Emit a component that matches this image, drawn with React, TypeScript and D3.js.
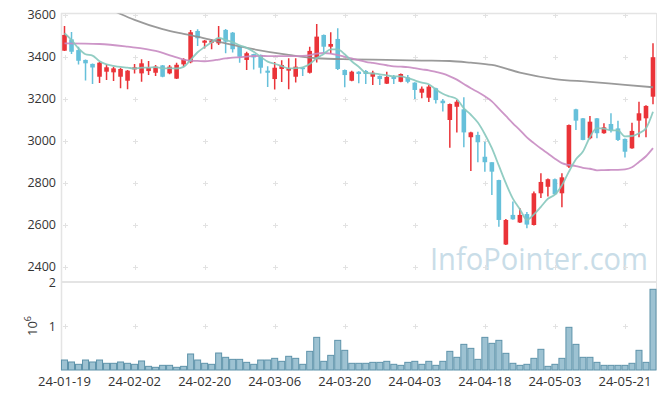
import React, { useRef, useEffect } from "react";
import * as d3 from "d3";

// daily candles, 2024-01-19 .. 2024-05-27 (85 sessions)
const opens = [
  3430, 3484, 3433, 3386, 3367, 3306, 3330, 3327, 3306, 3287,
  3341, 3322, 3333, 3325, 3360, 3322, 3297, 3365, 3375, 3524,
  3468, 3468, 3465, 3529, 3516, 3449, 3386, 3414, 3410, 3335,
  3295, 3343, 3335, 3306, 3349, 3325, 3398, 3505, 3449, 3486,
  3338, 3287, 3330, 3333, 3306, 3310, 3273, 3306, 3282, 3303,
  3278, 3230, 3206, 3251, 3192, 3100, 3163, 3151, 3018, 3029,
  2925, 2899, 2814, 2507, 2648, 2612, 2652, 2600, 2751, 2782,
  2818, 2751, 2878, 3151, 3108, 3013, 3108, 3037, 3081, 3060,
  3010, 2965, 3097, 3108, 3211,
];
const closes = [
  3505, 3425, 3382, 3370, 3350, 3373, 3351, 3346, 3343, 3335,
  3351, 3370, 3349, 3354, 3306, 3354, 3363, 3389, 3518, 3489,
  3478, 3478, 3489, 3473, 3437, 3401, 3418, 3398, 3349, 3325,
  3349, 3362, 3346, 3354, 3344, 3429, 3497, 3449, 3462, 3343,
  3314, 3330, 3319, 3319, 3325, 3295, 3305, 3295, 3319, 3282,
  3243, 3249, 3259, 3195, 3180, 3176, 3187, 3041, 3041, 2994,
  2899, 2854, 2624, 2624, 2627, 2648, 2602, 2751, 2805, 2818,
  2746, 2827, 3076, 3097, 3005, 3092, 3037, 3065, 3052, 3005,
  2949, 3048, 3132, 3167, 3399,
];
const highs = [
  3548, 3519, 3449, 3388, 3369, 3376, 3365, 3354, 3349, 3338,
  3367, 3389, 3381, 3362, 3362, 3362, 3373, 3394, 3529, 3532,
  3481, 3484, 3548, 3533, 3519, 3452, 3425, 3416, 3412, 3356,
  3376, 3384, 3394, 3394, 3352, 3449, 3557, 3507, 3518, 3537,
  3340, 3335, 3332, 3338, 3335, 3312, 3330, 3314, 3322, 3314,
  3280, 3259, 3267, 3253, 3200, 3178, 3195, 3208, 3044, 3044,
  2997, 2899, 2816, 2629, 2712, 2680, 2662, 2759, 2846, 2821,
  2822, 2846, 3078, 3154, 3110, 3119, 3110, 3084, 3132, 3097,
  3012, 3087, 3187, 3170, 3465,
];
const lows = [
  3428, 3414, 3364, 3288, 3271, 3276, 3290, 3286, 3251, 3246,
  3322, 3282, 3314, 3310, 3303, 3318, 3295, 3354, 3370, 3452,
  3441, 3437, 3457, 3418, 3421, 3373, 3338, 3341, 3322, 3257,
  3245, 3281, 3246, 3278, 3310, 3322, 3374, 3422, 3414, 3338,
  3256, 3285, 3275, 3271, 3267, 3267, 3271, 3271, 3280, 3275,
  3200, 3203, 3186, 3179, 3140, 2968, 3040, 2970, 2857, 2899,
  2854, 2743, 2592, 2505, 2625, 2610, 2584, 2598, 2729, 2736,
  2744, 2684, 2872, 3052, 3003, 3008, 3013, 3035, 3040, 3000,
  2922, 2963, 3018, 3018, 3175,
];
// volume in thousands
const volumes = [
  227, 182, 129, 227, 182, 227, 152, 152, 182, 152,
  129, 205, 83, 61, 106, 106, 61, 83, 364, 227,
  152, 129, 386, 288, 242, 242, 174, 129, 227, 227,
  265, 197, 311, 265, 129, 424, 742, 197, 333, 674,
  447, 152, 152, 152, 174, 174, 197, 129, 106, 174,
  197, 129, 197, 106, 197, 424, 288, 583, 492, 242,
  742, 606, 674, 379, 152, 106, 129, 265, 470, 83,
  129, 265, 970, 583, 288, 288, 174, 106, 106, 106,
  106, 152, 447, 174, 1834,
];

// moving-average values before the window fills
const ma5Head = [3513, 3481, 3441, 3413];
const ma20HeadIdx = [0, 5, 9, 13, 16, 18];
const ma20HeadVal = [3465, 3462, 3449, 3429, 3398, 3382];
// 60-day line
const ma60Idx = [0, 4, 8, 10, 14, 17, 20, 23, 27, 32, 36, 41, 46, 51, 55, 58, 61, 65, 70, 75, 80, 84];
const ma60Val = [3720, 3668, 3605, 3577, 3533, 3510, 3489, 3465, 3437, 3410, 3394, 3389, 3386, 3383, 3381, 3373, 3362, 3326, 3295, 3282, 3267, 3256];

const xTickLabels = ["24-01-19", "24-02-02", "24-02-20", "24-03-06", "24-03-20", "24-04-03", "24-04-18", "24-05-03", "24-05-21"];
const priceTicks = [2400, 2600, 2800, 3000, 3200, 3400, 3600];
const volTicks = [1, 2];

const W = 665;
const H = 399;
const left = 61;
const right = 656.5;
const upColor = "#ea3338";
const downColor = "#66c0da";
const gridColor = "#e4e4e4";
const font = "'Open Sans', 'DejaVu Sans', sans-serif";

export default function App() {
  const svgRef = useRef<SVGSVGElement>(null);

  useEffect(() => {
    if (!svgRef.current) return;
    const svg = d3.select(svgRef.current);
    svg.selectAll("*").remove();

    const n = closes.length;
    const x = d3.scaleBand<number>().domain(d3.range(n)).range([left, right]).padding(0);
    const cx = (i: number) => (x(i) as number) + x.bandwidth() / 2;
    const y = d3.scaleLinear().domain([2400, 3600]).range([267, 15]);
    const yv = d3.scaleLinear().domain([0, 2000]).range([370, 282]);

    svg.append("defs").append("clipPath").attr("id", "pclip")
      .append("rect").attr("x", left).attr("y", 13.5).attr("width", right - left).attr("height", 268);

    // watermark
    svg.append("text")
      .attr("x", 430).attr("y", 270)
      .attr("font-family", font).attr("font-size", 31)
      .attr("textLength", 218).attr("lengthAdjust", "spacingAndGlyphs")
      .attr("fill", "#c9dde8")
      .text("InfoPointer.com");

    // frame
    svg.append("line").attr("x1", left).attr("x2", right).attr("y1", 13.5).attr("y2", 13.5)
      .attr("stroke", gridColor).attr("stroke-width", 1.5);
    svg.append("line").attr("x1", left).attr("x2", right).attr("y1", 282).attr("y2", 282)
      .attr("stroke", gridColor).attr("stroke-width", 2);
    svg.append("line").attr("x1", left + 0.5).attr("x2", left + 0.5).attr("y1", 13).attr("y2", 370)
      .attr("stroke", gridColor).attr("stroke-width", 1.5);
    svg.append("line").attr("x1", right).attr("x2", right).attr("y1", 13).attr("y2", 370)
      .attr("stroke", gridColor).attr("stroke-width", 1);

    // grid crosses
    const tickIdx = xTickLabels.map((_, k) => k * 10);
    const crossYs = [...priceTicks.map((t) => y(t)), yv(1000)];
    const crosses = svg.append("g").attr("stroke", "#e2e2e2").attr("stroke-width", 1);
    tickIdx.forEach((ti) => {
      crossYs.forEach((cy) => {
        const px = Math.round(cx(ti)) + 0.5;
        const py = Math.round(cy) + 0.5;
        crosses.append("line").attr("x1", px - 2.5).attr("x2", px + 2.5).attr("y1", py).attr("y2", py);
        crosses.append("line").attr("x1", px).attr("x2", px).attr("y1", py - 2.5).attr("y2", py + 2.5);
      });
    });

    // y labels
    svg.append("g").selectAll("text").data(priceTicks).enter().append("text")
      .attr("x", 56).attr("y", (d) => y(d)).attr("dy", "0.33em")
      .attr("text-anchor", "end").attr("font-family", font).attr("font-size", 12.5).attr("fill", "#333")
      .text((d) => String(d));
    svg.append("g").selectAll("text").data(volTicks).enter().append("text")
      .attr("x", 56).attr("y", (d) => yv(d * 1000)).attr("dy", "0.4em")
      .attr("text-anchor", "end").attr("font-family", font).attr("font-size", 12.5).attr("fill", "#333")
      .text((d) => String(d));
    const unit = svg.append("text")
      .attr("transform", "translate(37,336) rotate(-90)")
      .attr("font-family", font).attr("font-size", 13).attr("fill", "#333");
    unit.append("tspan").text("10");
    unit.append("tspan").attr("dy", -6).attr("font-size", 9).text("6");

    // x labels
    svg.append("g").selectAll("text").data(xTickLabels).enter().append("text")
      .attr("x", (_d, k) => cx(tickIdx[k])).attr("y", 386)
      .attr("text-anchor", "middle").attr("font-family", font).attr("font-size", 13).attr("fill", "#333")
      .text((d) => d);

    // volume bars
    svg.append("g").selectAll("rect").data(volumes).enter().append("rect")
      .attr("x", (_d, i) => (x(i) as number) + 0.5)
      .attr("width", x.bandwidth() - 1)
      .attr("y", (d) => yv(d))
      .attr("height", (d) => 370 - yv(d))
      .attr("fill", "#9dc2d2").attr("stroke", "#5e93aa").attr("stroke-width", 1);

    const plot = svg.append("g").attr("clip-path", "url(#pclip)");

    // candles
    const idx = d3.range(n);
    plot.append("g").selectAll("line").data(idx).enter().append("line")
      .attr("x1", (i) => cx(i)).attr("x2", (i) => cx(i))
      .attr("y1", (i) => y(highs[i])).attr("y2", (i) => y(lows[i]))
      .attr("stroke", (i) => (closes[i] >= opens[i] ? upColor : downColor))
      .attr("stroke-width", 1.5);
    plot.append("g").selectAll("rect").data(idx).enter().append("rect")
      .attr("x", (i) => cx(i) - 2.3).attr("width", 4.6)
      .attr("y", (i) => y(Math.max(opens[i], closes[i])))
      .attr("height", (i) => Math.max(1.5, Math.abs(y(opens[i]) - y(closes[i]))))
      .attr("fill", (i) => (closes[i] >= opens[i] ? upColor : downColor));

    // moving averages
    const avg = (p: number, i: number) => d3.mean(closes.slice(i - p + 1, i + 1)) as number;
    const ma5: [number, number][] = idx.map((i) => [i, i < 4 ? ma5Head[i] : avg(5, i)]);
    const ma20: [number, number][] = [
      ...ma20HeadIdx.map((i, k) => [i, ma20HeadVal[k]] as [number, number]),
      ...idx.filter((i) => i >= 19).map((i) => [i, avg(20, i)] as [number, number]),
    ];
    const ma60: [number, number][] = ma60Idx.map((i, k) => [i, ma60Val[k]]);
    const line = d3.line<[number, number]>()
      .x((d) => cx(d[0])).y((d) => y(d[1]))
      .curve(d3.curveMonotoneX);
    [
      { pts: ma60, color: "#8f8f8f" },
      { pts: ma20, color: "#c88bc2" },
      { pts: ma5, color: "#86c8bd" },
    ].forEach((s) => {
      plot.append("path").datum(s.pts).attr("d", line)
        .attr("fill", "none").attr("stroke", s.color)
        .attr("stroke-width", 1.8).attr("opacity", 0.9);
    });
  }, []);

  return (
    <svg
      ref={svgRef}
      width={W}
      height={H}
      style={{ position: "absolute", left: 0, top: 0, display: "block", background: "#fff" }}
    />
  );
}
